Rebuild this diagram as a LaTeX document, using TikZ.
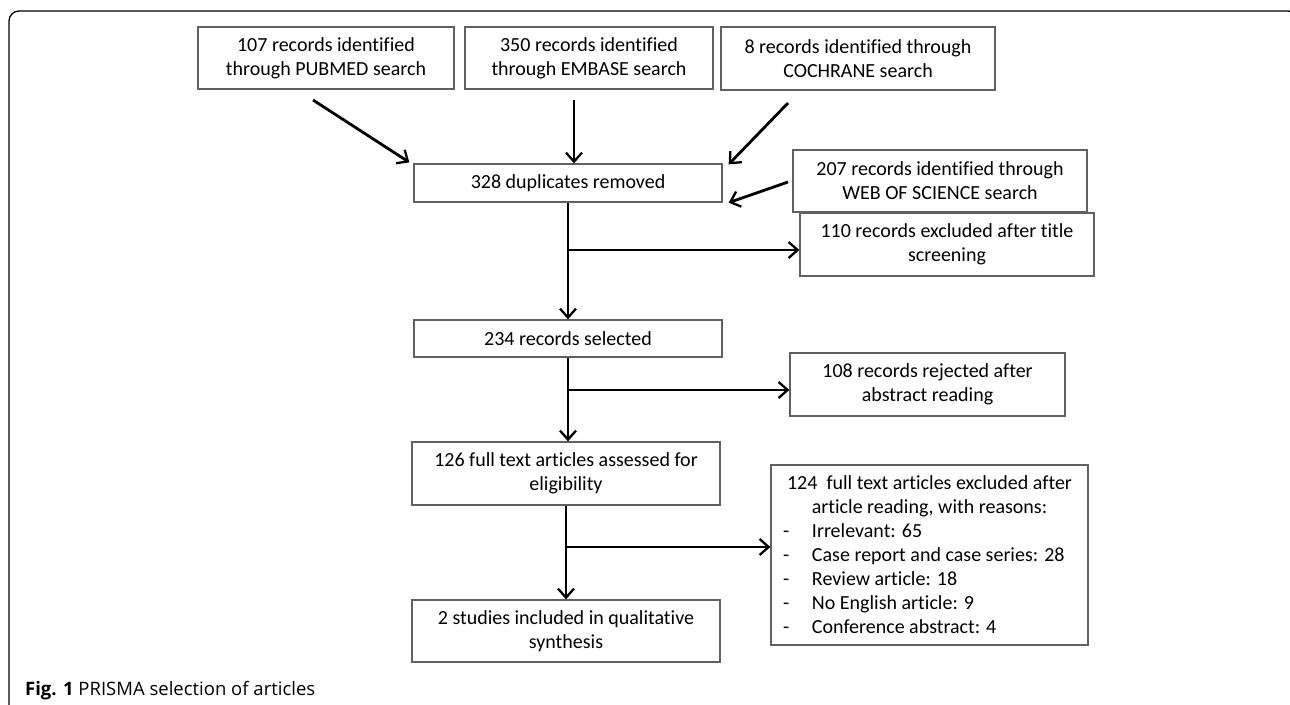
\documentclass[tikz,border=0pt]{standalone}
\usepackage{fontspec}
\setmainfont[Ligatures={NoCommon}]{Carlito}
\newfontfamily\capfont{Open Sans}
\usetikzlibrary{arrows.meta,calc}
\begin{document}
\begin{tikzpicture}[x=1pt,y=-1pt,
  box/.style={draw=black!62, line width=1.3pt, inner sep=0pt, align=center,
    font=\fontsize{20}{24}\selectfont},
  arr/.style={line width=2.8pt, -{Straight Barb[length=9pt,width=16pt,line width=2.3pt]}},
  frame/.style={line width=1.3pt, rounded corners=10pt}]
\useasboundingbox (0,0) rectangle (1290,704);
\draw[frame] (9,730) -- (9,11) -- (1298,11) -- (1298,730);

\node[box, minimum width=256pt, minimum height=62pt] (pub) at (326,58) {107 records identified\\through PUBMED search};
\node[box, minimum width=248pt, minimum height=62pt] (emb) at (589,58) {350 records identified\\through EMBASE search};
\node[box, minimum width=274pt, minimum height=63pt] (coch) at (858,58.5) {8 records identified through\\COCHRANE search};
\node[box, minimum width=308pt, minimum height=38pt] (dup) at (568,183) {328 duplicates removed};
\node[box, minimum width=294pt, minimum height=62pt] (wos) at (940,181) {207 records identified through\\WEB OF SCIENCE search};
\node[box, minimum width=294pt, minimum height=63pt] (ex1) at (947,244.5) {110 records excluded after title\\screening};
\node[box, minimum width=308pt, minimum height=37pt] (sel) at (568,338.5) {234 records selected};
\node[box, minimum width=275pt, minimum height=63pt] (ex2) at (927.5,384.5) {108 records rejected after\\abstract reading};
\node[box, minimum width=308pt, minimum height=63pt] (full) at (566,473.5) {126 full text articles assessed for\\eligibility};
\node[box, minimum width=317pt, minimum height=180pt] (ex3) at (929.5,555) {124\ \ full text articles excluded after\\article reading, with reasons:\\
\makebox[317pt][l]{\hspace{12pt}\makebox[29pt][l]{-}Irrelevant: 65}\\
\makebox[317pt][l]{\hspace{12pt}\makebox[29pt][l]{-}Case report and case series: 28}\\
\makebox[317pt][l]{\hspace{12pt}\makebox[29pt][l]{-}Review article: 18}\\
\makebox[317pt][l]{\hspace{12pt}\makebox[29pt][l]{-}No English article: 9}\\
\makebox[317pt][l]{\hspace{12pt}\makebox[29pt][l]{-}Conference abstract: 4}};
\node[box, minimum width=308pt, minimum height=62pt] (inc) at (566,631) {2 studies included in qualitative\\synthesis};

\node[anchor=base west, inner sep=0pt, font=\capfont\fontsize{18.5}{22}\selectfont] (cap) at (25,695) {\textbf{Fig. 1} PRISMA selection of articles};

\coordinate (pubA) at (313,100);
\coordinate (embA) at (574,100);
\coordinate (cochA) at (788,103);
\coordinate (wosA) at (788,182);
\coordinate (b1) at (568,250);
\coordinate (b2) at (568,390);
\coordinate (b3) at (567,547);

\draw[arr] (pubA) -- ($(dup.north west)+(-4,-1)$);
\draw[arr] (embA) -- (embA |- dup.north);
\draw[arr] (cochA) -- ($(dup.north east)+(6,1)$);
\draw[arr] (wosA) -- ($(dup.south east)+(6,0)$);
\draw[arr] (dup.south) -- (sel.north);
\draw[arr] (b1) -- (b1 -| ex1.west);
\draw[arr] (sel.south) -- (sel.south |- full.north);
\draw[arr] (b2) -- (b2 -| ex2.west);
\draw[arr] (full.south) -- (inc.north);
\draw[arr] (b3) -- (b3 -| ex3.west);
\end{tikzpicture}
\end{document}
